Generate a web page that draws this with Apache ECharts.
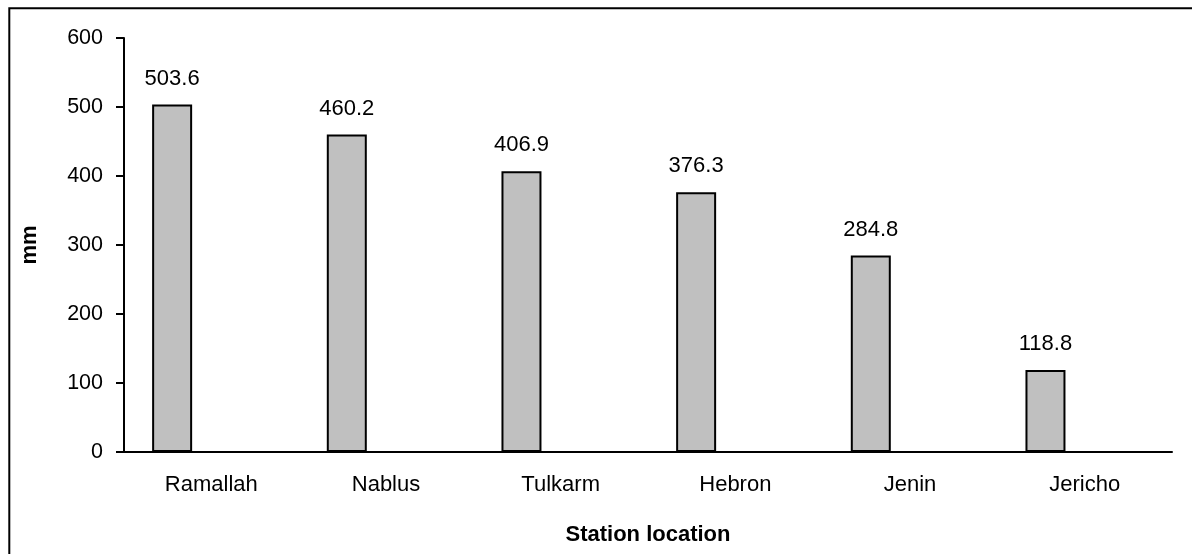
<!DOCTYPE html>
<html>
<head>
<meta charset="utf-8">
<script src="https://cdn.jsdelivr.net/npm/echarts@6/dist/echarts.min.js"></script>
<style>
html,body{margin:0;padding:0;background:#fff;}
#c{width:1192px;height:554px;}
</style>
</head>
<body>
<div id="c"></div>
<script>
const categories = ['Ramallah','Nablus','Tulkarm','Hebron','Jenin','Jericho'];
const rainfall = [503.6, 460.2, 406.9, 376.3, 284.8, 118.8];
const spacer = ['-','-','-','-','-','-'];
const yTicks = {min: 0, max: 600, interval: 100};

const FONT = '"Liberation Sans", Arial, sans-serif';
const chart = echarts.init(document.getElementById('c'), null, {renderer: 'canvas'});
chart.setOption({
  animation: false,
  backgroundColor: '#fff',
  graphic: [{
    type: 'rect', silent: true, z: 100,
    shape: {x: 9.3, y: 8.3, width: 1200, height: 600},
    style: {fill: 'none', stroke: '#000', lineWidth: 2}
  }],
  grid: {left: 124, right: 20, top: 38, bottom: 102, containLabel: false},
  xAxis: {
    type: 'category',
    data: categories,
    name: 'Station location',
    nameLocation: 'middle',
    nameGap: 72,
    nameTextStyle: {fontFamily: FONT, fontSize: 22, fontWeight: 'bold', color: '#000'},
    axisLine: {lineStyle: {color: '#000', width: 2}},
    axisTick: {show: false},
    axisLabel: {fontFamily: FONT, fontSize: 22, color: '#000', margin: 22},
    splitLine: {show: false}
  },
  yAxis: {
    type: 'value',
    min: yTicks.min, max: yTicks.max, interval: yTicks.interval,
    name: 'mm',
    nameLocation: 'middle',
    nameGap: 83,
    nameRotate: 90,
    nameTextStyle: {fontFamily: FONT, fontSize: 22, fontWeight: 'bold', color: '#000'},
    axisLine: {show: true, lineStyle: {color: '#000', width: 2}},
    axisTick: {show: true, length: 8, lineStyle: {color: '#000', width: 2}},
    axisLabel: {fontFamily: FONT, fontSize: 21.5, color: '#000', margin: 21},
    splitLine: {show: false}
  },
  series: [{
    type: 'bar',
    data: rainfall,
    barWidth: 40,
    barGap: '96%',
    itemStyle: {color: '#c0c0c0', borderColor: '#000', borderWidth: 2},
    label: {
      show: true, position: 'top', distance: 15,
      fontFamily: FONT, fontSize: 22, color: '#000',
      formatter: p => p.value.toFixed(1)
    }
  }, {
    type: 'bar',
    data: spacer,
    barWidth: 40,
    itemStyle: {color: 'transparent'}
  }]
});
</script>
</body>
</html>
